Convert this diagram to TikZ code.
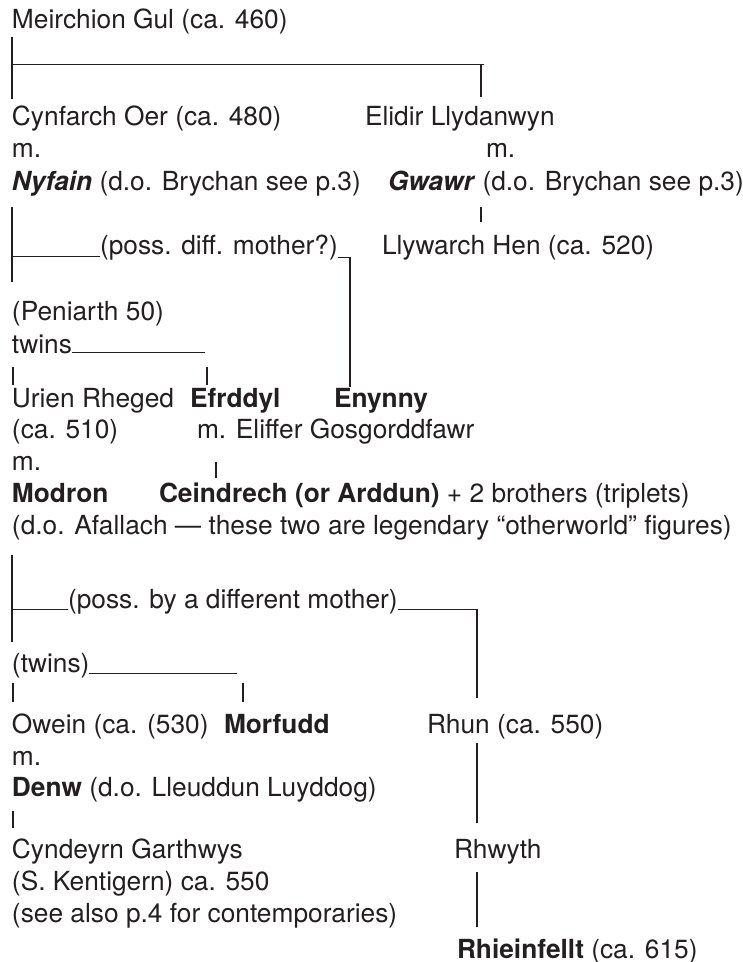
\documentclass[tikz,border=0pt]{standalone}
\usepackage{fontspec}
\setmainfont{TeX Gyre Heros}
\definecolor{ink}{HTML}{231F20}
\tikzset{
  txt/.style={anchor=base west, inner sep=0pt, outer sep=0pt, text=ink, font=\fontsize{26.3}{32}\selectfont},
  heavy/.style={draw=ink, line width=2pt},
  midline/.style={draw=ink, line width=1.5pt},
  hair/.style={draw=ink, line width=1pt},
  barline/.style={draw=ink, line width=1.3pt},
}
\begin{document}
\begin{tikzpicture}[x=1pt, y=-1pt]
\useasboundingbox (0,0) rectangle (743,962);
% ---- text nodes ----
\node[txt] (meirchion) at (12,28) {Meirchion Gul (ca. 460)};
\node[txt] (cynfarch) at (12,125) {Cynfarch Oer (ca. 480)};
\node[txt] (elidir) at (365,125) {Elidir Llydanwyn};
\node[txt] (m1) at (12,157) {m.};
\node[txt] (m2) at (486,157) {m.};
\node[txt] (nyfain) at (12,190) {\textbf{\textit{Nyfain}} (d.o. Brychan see p.3)};
\node[txt] (gwawr) at (388,190) {\textbf{\textit{Gwawr}} (d.o. Brychan see p.3)};
\node[txt] (poss1) at (100,254) {(poss. diff. mother?)};
\node[txt] (llywarch) at (382,254) {Llywarch Hen (ca. 520)};
\node[txt] (peniarth) at (12,320) {(Peniarth 50)};
\node[txt] (twins1) at (12,353) {twins};
\node[txt] (urien) at (12,407) {Urien Rheged};
\node[txt] (efrddyl) at (190,407) {\textbf{Efrddyl}};
\node[txt] (enynny) at (334,407) {\textbf{Enynny}};
\node[txt] (ca510) at (12,438) {(ca. 510)};
\node[txt] (eliffer) at (197,438) {m. Eliffer Gosgorddfawr};
\node[txt] (m3) at (12,470) {m.};
\node[txt] (modron) at (12,502) {\textbf{Modron}};
\node[txt] (ceindrech) at (159,502) {\textbf{Ceindrech (or Arddun)} + 2 brothers (triplets)};
\node[txt] (afallach) at (12,534) {(d.o. Afallach — these two are legendary “otherworld” figures)};
\node[txt] (poss2) at (68,608) {(poss. by a different mother)};
\node[txt] (twins2) at (12,672) {(twins)};
\node[txt] (owein) at (12,733) {Owein (ca. (530)};
\node[txt] (morfudd) at (224,733) {\textbf{Morfudd}};
\node[txt] (rhun) at (427,733) {Rhun (ca. 550)};
\node[txt] (m4) at (12,765) {m.};
\node[txt] (denw) at (12,796) {\textbf{Denw} (d.o. Lleuddun Luyddog)};
\node[txt] (cyndeyrn) at (12,858) {Cyndeyrn Garthwys};
\node[txt] (kentigern) at (12,890) {(S. Kentigern) ca. 550};
\node[txt] (seealso) at (12,922) {(see also p.4 for contemporaries)};
\node[txt] (rhwyth) at (454,858) {Rhwyth};
\node[txt] (rhieinfellt) at (457,958) {\textbf{Rhieinfellt} (ca. 615)};
% ---- connector points ----
\coordinate (a1) at (12,37);  \coordinate (a2) at (12,99);
\coordinate (a3) at (12,64);  \coordinate (a4) at (484,64);
\coordinate (a5) at (481,65); \coordinate (a6) at (481,97);
\coordinate (g1) at (481,207); \coordinate (g2) at (481,222);
\coordinate (b1) at (12,207); \coordinate (b2) at (12,282);
\coordinate (b3) at (12,256); \coordinate (b4) at (poss1.west |- b3);
\coordinate (b6) at (350,257); \coordinate (b5) at (poss1.east |- b6);
\coordinate (b7) at (350,387);
\coordinate (c2) at (205,352); \coordinate (c1) at (twins1.east |- c2);
\coordinate (c3) at (13,367); \coordinate (c4) at (13,385);
\coordinate (c5) at (207,367); \coordinate (c6) at (207,385);
\coordinate (e1) at (216,462); \coordinate (e2) at (216,478);
\coordinate (d1) at (12,555); \coordinate (d2) at (12,642);
\coordinate (d3) at (12,609); \coordinate (d4) at (poss2.west |- d3);
\coordinate (d6) at (477,609); \coordinate (d5) at (poss2.east |- d6);
\coordinate (d7) at (477,698);
\coordinate (f2) at (237,673); \coordinate (f1) at (twins2.east |- f2);
\coordinate (f3) at (13,683); \coordinate (f4) at (13,702);
\coordinate (f5) at (243,683); \coordinate (f6) at (243,702);
\coordinate (h1) at (13,811); \coordinate (h2) at (13,828);
\coordinate (r1) at (477,743); \coordinate (r2) at (477,823);
\coordinate (r3) at (477,872); \coordinate (r4) at (477,927);
% ---- connectors ----
\draw[heavy] (a1) -- (a2);
\draw[hair] (a3) -- (a4);
\draw[midline] (a5) -- (a6);
\draw[barline] (g1) -- (g2);
\draw[heavy] (b1) -- (b2);
\draw[hair] (b3) -- (b4);
\draw[hair] (b5) -- (b6);
\draw[midline] (b6) -- (b7);
\draw[hair] (c1) -- (c2);
\draw[barline] (c3) -- (c4);
\draw[barline] (c5) -- (c6);
\draw[barline] (e1) -- (e2);
\draw[heavy] (d1) -- (d2);
\draw[hair] (d3) -- (d4);
\draw[hair] (d5) -- (d6);
\draw[midline] (d6) -- (d7);
\draw[hair] (f1) -- (f2);
\draw[barline] (f3) -- (f4);
\draw[barline] (f5) -- (f6);
\draw[barline] (h1) -- (h2);
\draw[midline] (r1) -- (r2);
\draw[midline] (r3) -- (r4);
\end{tikzpicture}
\end{document}
